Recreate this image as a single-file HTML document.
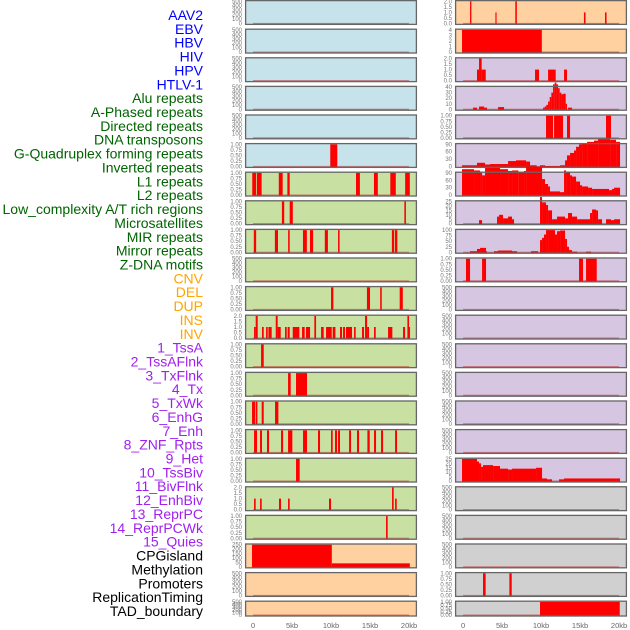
<!DOCTYPE html>
<html><head><meta charset="utf-8"><style>
html,body{margin:0;padding:0;background:#fff;width:630px;height:630px;overflow:hidden}
svg{display:block;font-family:"Liberation Sans",sans-serif}
</style></head><body>
<svg id="chart" width="630" height="630" xmlns="http://www.w3.org/2000/svg"></svg>
<script>
// ---- track names (categories) ----
const leftNames = ["AAV2","EBV","HBV","HIV","HPV","HTLV-1","Alu repeats","A-Phased repeats","Directed repeats","DNA transposons","G-Quadruplex forming repeats","Inverted repeats","L1 repeats","L2 repeats","Low_complexity A/T rich regions","Microsatellites","MIR repeats","Mirror repeats","Z-DNA motifs","CNV","DEL","DUP"];
const rightNames = ["INS","INV","1_TssA","2_TssAFlnk","3_TxFlnk","4_Tx","5_TxWk","6_EnhG","7_Enh","8_ZNF_Rpts","9_Het","10_TssBiv","11_BivFlnk","12_EnhBiv","13_ReprPC","14_ReprPCWk","15_Quies","CPGisland","Methylation","Promoters","ReplicationTiming","TAD_boundary"];
// ---- x-axis ticks ----
const xTickValues = [0,5,10,15,20];
const xTickLabels = ["0","5kb","10kb","15kb","20kb"];
// ---- y tick sets ----
const ticksEmpty = [0,100,200,300,400,500];
const ticksUnit = [0,0.25,0.5,0.75,1.0];
const ticksTwo = [0,0.5,1.0,1.5,2.0];
const ticksFour = [0,1,2,3,4];
const ticksFlnk = [0,10,20,30,40];
const ticksTx = [0,30,60,90];
const ticksEnhG = [0,5,10,15,20,25];
const ticksEnh = [0,25,50,75,100];
const ticksQuies = [0,5,10,15,20,25];
const ticksCNV = [0,50,100,150,200,250];
// ---- series: [startKb, endKb, value] ----
const dataHTLV1 = [[9.9,10.8,1]];
const dataAlu = [[-0.1,0.4,1],[0.5,1.1,1],[3.3,3.8,1],[4.4,4.7,1],[13.2,13.7,1],[15.5,16.0,1],[17.6,18.3,1],[19.5,20.1,1]];
const dataAPhased = [[3.7,4.0,1],[4.7,5.1,1],[19.4,19.6,1]];
const dataDirected = [[0.1,0.4,1],[2.8,3.2,1],[4.5,4.7,1],[6.4,6.9,1],[7.3,7.7,1],[9.2,9.6,1],[10.9,11.1,1],[17.8,18.1,1],[18.2,18.5,1]];
const dataGQuad = [[10.0,10.3,1],[14.6,15.0,1],[16.3,16.5,1],[18.8,19.2,1]];
const dataInverted = [[0.13,0.34,1],[0.34,0.6,2],[1.15,1.37,1],[1.67,1.88,1],[1.97,2.39,1],[2.91,3.16,2],[3.16,3.55,1],[4.1,4.32,1],[4.44,4.7,1],[5.09,5.94,1],[6.28,6.62,1],[6.79,7.31,1],[7.86,8.08,2],[8.72,9.06,1],[9.36,10.09,1],[10.21,10.56,1],[11.15,11.41,1],[11.54,11.79,1],[11.92,12.69,1],[12.95,13.16,1],[13.97,14.23,1],[14.36,14.62,2],[14.62,14.87,1],[15.51,15.73,1],[17.31,17.86,1],[19.23,19.49,1],[19.79,20.0,2],[20.0,20.13,1]];
const dataL1 = [[1.03,1.37,1]];
const dataL2 = [[4.49,4.83,1],[5.51,6.92,1]];
const dataLowComplex = [[-0.13,0.26,1],[0.34,0.56,1],[1.11,1.37,1],[2.82,3.25,1]];
const dataMicrosat = [[0.13,0.51,1],[0.9,1.15,1],[1.79,2.05,1],[3.59,3.85,1],[4.49,5.04,1],[6.41,6.92,1],[8.33,8.59,1],[10.0,10.21,1],[10.51,10.77,1],[10.9,11.15,1],[12.31,12.56,1],[13.33,13.59,1],[14.66,14.96,1],[15.51,15.77,1],[16.41,16.67,1],[18.21,18.46,1]];
const dataMIR = [[5.51,5.98,1]];
const dataMirror = [[0.13,0.34,1],[0.9,1.11,1],[3.33,3.59,1],[4.49,4.7,1],[9.74,10.0,1],[17.82,18.03,2],[18.21,18.42,1]];
const dataZDNA = [[17.05,17.26,1]];
const dataCNV = [[-0.13,10.1,250],[10.1,20.1,40]];
const dataINS = [[0.9,1.07,2],[4.15,4.3,1],[6.7,6.9,2],[15.5,15.7,1],[18.2,18.4,1]];
const dataINV = [[-0.13,10.1,4]];
const dataTssA = [[1.79,2.05,1],[2.05,2.39,2],[2.39,2.91,1],[9.23,9.74,1],[10.9,11.88,1],[12.95,13.33,1]];
const dataTssAFlnk = [[1.28,1.79,3],[2.05,2.69,5],[2.69,3.08,3],[4.49,5.26,4],[10.26,10.47,3],[10.47,10.68,5],[10.68,10.9,8],[10.9,11.11,14],[11.11,11.32,22],[11.32,11.54,30],[11.54,11.75,45],[11.75,11.97,48],[11.97,12.18,45],[12.18,12.39,38],[12.39,12.61,30],[12.61,12.82,27],[12.82,13.16,28],[13.16,13.33,10],[13.46,13.97,3]];
const dataTxFlnk = [[10.64,11.54,1],[11.67,12.82,1],[13.33,13.72,1],[18.33,18.97,1]];
const dataTx = [[-0.13,1.79,5],[1.79,2.82,15],[2.82,3.46,8],[3.46,5.77,10],[5.77,6.79,22],[6.79,8.08,25],[8.08,8.59,20],[8.59,9.44,5],[9.87,10.51,5],[10.51,12.44,2],[12.44,13.08,5],[13.08,13.33,25],[13.33,13.72,45],[13.72,14.23,55],[14.23,14.49,65],[14.49,14.87,80],[14.87,15.26,90],[15.26,15.9,95],[15.9,16.79,100],[16.79,17.31,105],[17.31,18.85,110],[18.85,19.62,108],[19.62,20.13,100]];
const dataTxWk = [[-0.13,1.41,105],[1.41,2.18,100],[2.18,2.44,95],[2.44,2.82,80],[2.82,4.74,110],[4.74,5.77,105],[5.77,6.28,98],[6.28,7.09,100],[7.09,7.82,95],[7.82,8.08,98],[8.08,10.13,115],[10.13,10.51,65],[10.51,10.9,45],[10.9,11.15,35],[11.15,12.44,15],[12.44,12.95,12],[12.95,13.21,100],[13.21,13.72,95],[13.72,13.97,80],[13.97,14.49,75],[14.49,15.0,55],[15.0,15.26,40],[15.26,16.03,35],[16.03,16.54,30],[16.54,18.72,25],[18.72,19.1,20],[19.1,19.36,25],[19.36,20.13,30]];
const dataEnhG = [[2.05,2.44,4],[4.36,4.62,8],[4.62,5.13,10],[5.13,5.77,6],[5.77,6.28,8],[6.28,6.54,5],[9.87,10.13,30],[10.13,10.64,24],[10.64,10.9,21],[10.9,11.41,15],[11.41,12.05,5],[12.05,12.56,8],[12.56,13.08,8],[13.08,13.46,6],[13.46,13.97,12],[13.97,14.62,8],[14.62,16.28,5],[16.28,16.54,12],[16.54,17.05,16],[17.05,17.31,15],[17.31,17.82,5],[18.33,18.97,5],[18.97,19.36,4],[19.36,20.13,5]];
const dataEnh = [[0.9,1.79,5],[1.79,2.18,15],[2.18,2.95,20],[2.95,3.08,5],[3.97,4.49,5],[4.49,5.38,8],[5.38,6.28,8],[6.28,6.92,5],[8.72,9.62,5],[9.87,10.13,55],[10.13,10.38,65],[10.38,10.64,80],[10.64,10.9,100],[10.9,11.79,100],[11.79,12.05,80],[12.05,12.44,95],[12.44,13.08,98],[13.08,13.33,60],[13.33,13.59,25],[13.59,13.97,10],[13.97,14.62,3],[15.77,16.41,3]];
const dataZNF = [[0.38,0.9,1],[2.44,2.95,1],[14.87,15.38,1],[15.77,17.14,1]];
const dataQuies = [[-0.13,1.79,25],[1.79,2.05,22],[2.05,2.31,20],[2.31,2.56,16],[2.56,3.85,18],[3.85,4.74,17],[4.74,5.77,14],[5.77,6.28,13],[6.28,9.36,14],[9.36,10.13,15],[10.13,10.77,3],[10.77,11.41,2],[12.31,12.95,2],[12.95,20.13,3]];
const dataRepTiming = [[2.56,2.9,1],[5.94,6.24,1]];
const dataTAD = [[9.87,20.09,1]];
const none = [];

const BLUE="#c6e2ea", GREEN="#c8e1a3", ORANGE="#ffd1a0", PURPLE="#d6c6e2", GREY="#d0d0d0";
// [series, ticks, decimals, bg]
const leftTracks = [
 [none,ticksEmpty,0,BLUE],[none,ticksEmpty,0,BLUE],[none,ticksEmpty,0,BLUE],[none,ticksEmpty,0,BLUE],[none,ticksEmpty,0,BLUE],
 [dataHTLV1,ticksUnit,2,BLUE],
 [dataAlu,ticksUnit,2,GREEN],[dataAPhased,ticksUnit,2,GREEN],[dataDirected,ticksUnit,2,GREEN],[none,ticksEmpty,0,GREEN],
 [dataGQuad,ticksUnit,2,GREEN],[dataInverted,ticksTwo,1,GREEN],[dataL1,ticksUnit,2,GREEN],[dataL2,ticksUnit,2,GREEN],
 [dataLowComplex,ticksUnit,2,GREEN],[dataMicrosat,ticksUnit,2,GREEN],[dataMIR,ticksUnit,2,GREEN],[dataMirror,ticksTwo,1,GREEN],
 [dataZDNA,ticksUnit,2,GREEN],[dataCNV,ticksCNV,0,ORANGE],[none,ticksEmpty,0,ORANGE],[none,ticksEmpty,0,ORANGE]];
const rightTracks = [
 [dataINS,ticksTwo,1,ORANGE],[dataINV,ticksFour,0,ORANGE],
 [dataTssA,ticksTwo,1,PURPLE],[dataTssAFlnk,ticksFlnk,0,PURPLE],[dataTxFlnk,ticksUnit,2,PURPLE],[dataTx,ticksTx,0,PURPLE],
 [dataTxWk,ticksTx,0,PURPLE],[dataEnhG,ticksEnhG,0,PURPLE],[dataEnh,ticksEnh,0,PURPLE],[dataZNF,ticksUnit,2,PURPLE],
 [none,ticksEmpty,0,PURPLE],[none,ticksEmpty,0,PURPLE],[none,ticksEmpty,0,PURPLE],[none,ticksEmpty,0,PURPLE],[none,ticksEmpty,0,PURPLE],[none,ticksEmpty,0,PURPLE],
 [dataQuies,ticksQuies,0,PURPLE],
 [none,ticksEmpty,0,GREY],[none,ticksEmpty,0,GREY],[none,ticksEmpty,0,GREY],[dataRepTiming,ticksUnit,2,GREY],[dataTAD,ticksUnit,2,GREY]];

const NS="http://www.w3.org/2000/svg";
const svg=document.getElementById('chart');
function el(tag,attrs,parent){const e=document.createElementNS(NS,tag);for(const k in attrs)e.setAttribute(k,attrs[k]);(parent||svg).appendChild(e);return e;}

// labels
const allNames = leftNames.concat(rightNames);
function labelColor(i){ if(i<6)return"#0000ff"; if(i<19)return"#006400"; if(i<24)return"#ffa500"; if(i<39)return"#a020f0"; return"#000"; }
allNames.forEach((n,i)=>{
  const t=el('text',{x:203,y:15+i*13.86+5,'text-anchor':'end','font-size':'14',fill:labelColor(i)});
  t.textContent=n;
  
  
});

function drawColumn(tracks,names,x0,colName){
  const W=172, kbMin=-1.03, kbMax=21.02;
  const xs=kb=>x0+(kb-kbMin)/(kbMax-kbMin)*W;
  tracks.forEach((tr,i)=>{
    const [series,ticks,dec,bg]=tr;
    const top = i===0 ? 0 : 28.6*i;
    const h = i===21 ? 16 : 25;
    const max=ticks[ticks.length-1];
    const ys=v=>top+h-1.5-(v/max)*(h-2.8);
    const g=el('g',{});
    
    
    const r=el('rect',{x:x0,y:top,width:W,height:h,fill:bg},g);
    
    
    series.forEach(d=>{
      const b=el('rect',{x:xs(d[0]),y:ys(d[2]),width:Math.max(0.8,xs(d[1])-xs(d[0])),height:ys(0)-ys(d[2])+1.2,fill:'#ff0000'},g);
      
      
    });
    const bl=el('rect',{x:xs(0),y:ys(0)-0.6,width:xs(20)-xs(0),height:1.6,fill:'rgba(190,40,40,0.55)'},g);
    
    
    const fr=el('rect',{x:x0+0.6,y:top+0.6,width:W-1.2,height:h-1.2,fill:'none',stroke:'#666',"stroke-width":1.3},g);
    
    
    ticks.forEach(v=>{
      const t=el('text',{x:x0-3,y:ys(v)+2,'text-anchor':'end','font-size':'6',fill:'#777'},g);
      t.textContent=v.toFixed(dec);
      
      
    });
  });
  xTickValues.forEach((v,j)=>{
    const t=el('text',{x:xs(v),y:628,'text-anchor':'middle','font-size':'7.5',fill:'#666'});
    t.textContent=xTickLabels[j];
    
    
  });
}
drawColumn(leftTracks,leftNames,245,'left');
drawColumn(rightTracks,rightNames,455,'right');
</script>
</body></html>
